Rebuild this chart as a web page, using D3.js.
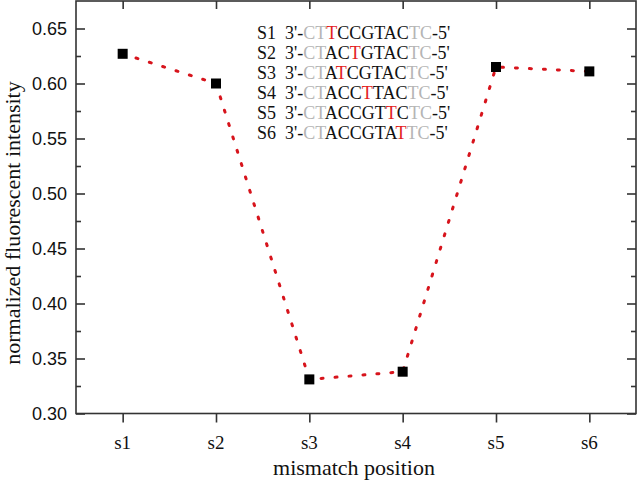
<!DOCTYPE html>
<html>
<head>
<meta charset="utf-8">
<script src="https://cdn.jsdelivr.net/npm/d3@7"></script>
<style>
  html, body { margin: 0; padding: 0; background: #fff; }
  svg { display: block; }
</style>
</head>
<body>
<svg id="chart" width="638" height="483"></svg>
<script>
// ---- data ----
const categories = ["s1", "s2", "s3", "s4", "s5", "s6"];
const intensity = [0.627, 0.600, 0.331, 0.338, 0.615, 0.611];
const yTicks = [0.30, 0.35, 0.40, 0.45, 0.50, 0.55, 0.60, 0.65];
const yMinorTicks = [0.325, 0.375, 0.425, 0.475, 0.525, 0.575, 0.625];
const legendNames = ["S1", "S2", "S3", "S4", "S5", "S6"];
const legendSeqs = ["CTTCCGTACTC", "CTACTGTACTC", "CTATCGTACTC", "CTACCTTACTC", "CTACCGTTCTC", "CTACCGTATTC"];
const mismatchIndex = [2, 4, 3, 5, 7, 8];
const greyIndex = [0, 1, 9, 10];

// ---- layout ----
const svg = d3.select("#chart");
const L = 76, R = 636, T = 1, B = 413.5;
const x = d3.scaleLinear().domain([-0.5, categories.length - 0.5]).range([L, R]);
const y = d3.scaleLinear().domain([0.30, 0.675]).range([B, T]);
const axisColor = "#333";
const serif = "'Liberation Serif', 'Times New Roman', serif";
const sans = "'Liberation Sans', Arial, sans-serif";

// frame
svg.append("rect").attr("x", L).attr("y", T).attr("width", R - L).attr("height", B - T)
  .attr("fill", "none").attr("stroke", axisColor).attr("stroke-width", 1.6);

// left axis (inward ticks)
const gL = svg.append("g").attr("transform", `translate(${L},0)`)
  .call(d3.axisRight(y).tickValues(yTicks).tickSize(9).tickFormat(""));
const gLm = svg.append("g").attr("transform", `translate(${L},0)`)
  .call(d3.axisRight(y).tickValues(yMinorTicks).tickSize(5).tickFormat(""));
// right axis (inward ticks)
const gR = svg.append("g").attr("transform", `translate(${R},0)`)
  .call(d3.axisLeft(y).tickValues(yTicks).tickSize(9).tickFormat(""));
const gRm = svg.append("g").attr("transform", `translate(${R},0)`)
  .call(d3.axisLeft(y).tickValues(yMinorTicks).tickSize(5).tickFormat(""));
// bottom axis (outward ticks)
const gB = svg.append("g").attr("transform", `translate(0,${B})`)
  .call(d3.axisBottom(x).tickValues(d3.range(categories.length)).tickSize(9).tickFormat(""));
// top axis (inward ticks)
const gT = svg.append("g").attr("transform", `translate(0,${T})`)
  .call(d3.axisBottom(x).tickValues(d3.range(categories.length)).tickSize(8).tickFormat(""));

[gL, gLm, gR, gRm, gB, gT].forEach(g => {
  g.select(".domain").remove();
  g.selectAll(".tick line").attr("stroke", axisColor).attr("stroke-width", 1.6);
});

// y tick labels
svg.append("g").selectAll("text").data(yTicks).join("text")
  .attr("x", L - 9).attr("y", d => y(d)).attr("dy", "0.35em")
  .attr("text-anchor", "end").attr("font-family", sans).attr("font-size", 18)
  .attr("fill", "#111").text(d => d3.format(".2f")(d));

// x tick labels
svg.append("g").selectAll("text").data(categories).join("text")
  .attr("x", (d, i) => x(i)).attr("y", 449)
  .attr("text-anchor", "middle").attr("font-family", serif).attr("font-size", 19)
  .attr("fill", "#111").text(d => d);

// axis titles
svg.append("text").attr("x", (L + R) / 2 - 2).attr("y", 475)
  .attr("text-anchor", "middle").attr("font-family", serif).attr("font-size", 22)
  .attr("fill", "#111").text("mismatch position");
svg.append("text").attr("transform", `translate(20,223) rotate(-90)`)
  .attr("text-anchor", "middle").attr("font-family", serif).attr("font-size", 22)
  .attr("fill", "#111").text("normalized fluorescent intensity");

// line
const line = d3.line().x((d, i) => x(i)).y(d => y(d));
svg.append("path").datum(intensity).attr("d", line)
  .attr("fill", "none").attr("stroke", "#d7141c").attr("stroke-width", 3)
  .attr("stroke-dasharray", "2,12").attr("stroke-linecap", "round");

// markers
const ms = 10;
svg.append("g").selectAll("rect").data(intensity).join("rect")
  .attr("x", (d, i) => x(i) - ms / 2).attr("y", d => y(d) - ms / 2)
  .attr("width", ms).attr("height", ms).attr("fill", "#000");

// legend sequences
const lg = svg.append("g");
legendNames.forEach((name, r) => {
  const by = 39 + r * 20;
  lg.append("text").attr("x", 257).attr("y", by)
    .attr("font-family", serif).attr("font-size", 18).attr("fill", "#111").text(name);
  const t = lg.append("text").attr("x", 285).attr("y", by)
    .attr("font-family", serif).attr("font-size", 18);
  t.append("tspan").attr("fill", "#111").text("3'-");
  legendSeqs[r].split("").forEach((ch, k) => {
    let c = "#111";
    if (greyIndex.includes(k)) c = "#b5b5b5";
    if (k === mismatchIndex[r]) c = "#e3201c";
    t.append("tspan").attr("fill", c).text(ch);
  });
  t.append("tspan").attr("fill", "#111").text("-5'");
});
</script>
</body>
</html>
